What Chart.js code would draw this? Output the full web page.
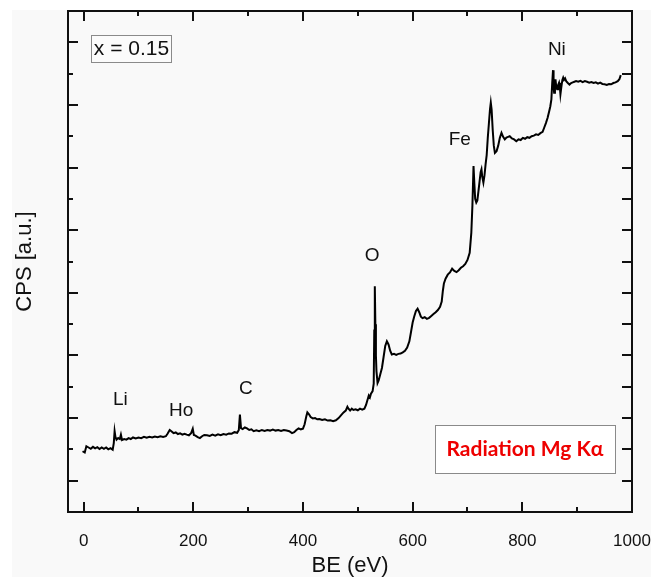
<!DOCTYPE html>
<html>
<head>
<meta charset="utf-8">
<script src="https://cdn.jsdelivr.net/npm/chart.js@4.4.0/dist/chart.umd.min.js"></script>
<style>
  body { margin: 0; background: #fafafa; }
  canvas { display: block; }
</style>
</head>
<body>
<canvas id="xps" width="651" height="577"></canvas>
<script>
// XPS survey spectrum, x = 0.15 sample
// binding energy (eV)
const beX = [
  -2, 2, 5, 9, 13, 17, 21, 25, 29, 33, 37, 41, 45, 49, 53, 55, 56.5, 58, 60, 63,
  66, 68, 70, 74, 78, 82, 86, 90, 95, 100, 105, 110, 115, 120, 125, 130, 135, 140, 145, 150,
  153, 157, 160, 164, 168, 172, 176, 180, 184, 188, 192, 196, 199, 201, 204, 208, 212, 216, 220, 225,
  230, 235, 240, 245, 250, 255, 260, 265, 270, 275, 280, 283, 285, 287, 290, 294, 298, 302, 306, 310,
  315, 320, 325, 330, 335, 340, 345, 350, 355, 360, 365, 370, 375, 380, 384, 388, 392, 396, 400, 403,
  406, 408, 411, 414, 418, 422, 426, 430, 435, 440, 445, 450, 455, 460, 465, 470, 474, 478, 481, 483,
  486, 489, 492, 496, 500, 504, 508, 512, 515, 518, 520, 522, 524, 527, 529, 530, 531, 532, 533, 534,
  536, 538, 541, 544, 547, 550, 553, 556, 559, 562, 566, 570, 574, 578, 582, 586, 590, 594, 597, 600,
  603, 606, 609, 612, 615, 618, 622, 626, 630, 634, 638, 642, 646, 650, 653, 655, 657, 660, 664, 668,
  672, 676, 680, 684, 688, 692, 696, 700, 704, 707, 709, 711, 712.5, 714, 716, 718, 720, 722, 724, 725.5,
  727, 729, 731, 733, 735, 737, 739, 741, 742.5, 744, 746, 748, 750, 753, 756, 759, 762, 765, 768, 771,
  774, 777, 781, 785, 789, 793, 797, 801, 805, 809, 813, 817, 821, 825, 829, 833, 837, 840, 843, 846,
  849, 851, 853, 854.5, 856, 857, 858, 859.5, 860.5, 862, 863.5, 865, 867, 868.5, 869.5, 871, 873, 874.5, 876, 878,
  880, 883, 886, 889, 892, 895, 898, 902, 906, 910, 914, 918, 922, 926, 930, 934, 938, 942, 946, 950,
  954, 958, 962, 966, 970, 974, 977, 979.5,
];

// counts per second (arbitrary units)
const cps = [
  1.94, 1.90, 2.10, 2.06, 2.02, 2.08, 2.03, 2.07, 2.01, 2.06, 2.02, 2.06, 2.00, 2.04, 1.99, 2.20, 2.58, 2.40, 2.31, 2.36,
  2.33, 2.47, 2.30, 2.33, 2.31, 2.36, 2.33, 2.38, 2.35, 2.38, 2.36, 2.40, 2.37, 2.40, 2.38, 2.41, 2.39, 2.42, 2.40, 2.42,
  2.50, 2.62, 2.58, 2.52, 2.54, 2.49, 2.51, 2.47, 2.50, 2.47, 2.45, 2.52, 2.66, 2.46, 2.44, 2.39, 2.36, 2.42, 2.46, 2.45,
  2.43, 2.47, 2.44, 2.48, 2.45, 2.49, 2.47, 2.51, 2.50, 2.55, 2.53, 2.62, 3.11, 2.68, 2.65, 2.70, 2.67, 2.62, 2.64, 2.58,
  2.61, 2.58, 2.62, 2.59, 2.62, 2.60, 2.63, 2.60, 2.62, 2.59, 2.62, 2.60, 2.58, 2.52, 2.55, 2.62, 2.67, 2.64, 2.66, 2.80,
  3.05, 3.18, 3.12, 3.03, 2.99, 3.00, 2.96, 2.97, 2.94, 2.96, 2.92, 2.93, 2.90, 2.93, 3.00, 3.10, 3.18, 3.24, 3.36, 3.30,
  3.24, 3.30, 3.26, 3.28, 3.25, 3.30, 3.27, 3.30, 3.42, 3.60, 3.72, 3.66, 3.78, 3.86, 4.10, 5.80, 7.21, 6.00, 5.00, 4.50,
  4.12, 4.20, 4.40, 4.60, 4.95, 5.30, 5.45, 5.35, 5.15, 5.03, 5.05, 5.02, 5.05, 5.06, 5.10, 5.15, 5.25, 5.45, 5.75, 6.05,
  6.25, 6.42, 6.49, 6.38, 6.24, 6.19, 6.22, 6.17, 6.20, 6.26, 6.32, 6.38, 6.45, 6.55, 6.72, 7.05, 7.30, 7.45, 7.58, 7.65,
  7.77, 7.70, 7.66, 7.72, 7.80, 7.85, 7.92, 8.05, 8.28, 8.92, 9.80, 11.05, 10.50, 10.00, 9.88, 9.95, 10.25, 10.55, 10.85, 10.94,
  10.70, 10.52, 10.75, 11.10, 11.40, 11.95, 12.40, 12.85, 13.07, 12.85, 12.20, 11.70, 11.47, 11.52, 11.70, 11.95, 12.11, 11.98, 11.90, 11.96,
  11.98, 12.00, 11.93, 11.90, 11.84, 11.90, 11.88, 11.95, 11.92, 11.97, 11.95, 12.00, 12.02, 12.06, 12.04, 12.10, 12.14, 12.28, 12.42, 12.58,
  12.80, 12.95, 13.18, 13.70, 14.11, 13.60, 13.39, 13.65, 13.82, 13.55, 13.50, 13.62, 13.71, 13.55, 13.34, 13.55, 13.80, 13.87, 13.80, 13.85,
  13.76, 13.70, 13.65, 13.70, 13.72, 13.74, 13.76, 13.74, 13.77, 13.73, 13.76, 13.74, 13.71, 13.73, 13.70, 13.72, 13.68, 13.71, 13.67, 13.66,
  13.64, 13.67, 13.66, 13.70, 13.72, 13.76, 13.82, 13.95,
];

// tick values
const xLabelTicks = [0, 200, 400, 600, 800, 1000];
const xMinorTicks = [100, 300, 500, 700, 900];
const yTicks = [1, 2, 3, 4, 5, 6, 7, 8, 9, 10, 11, 12, 13, 14, 15];

// element labels placed over the peaks (data coords)
const peakNames = ['Li', 'Ho', 'C', 'O', 'Fe', 'Ni'];
const peakNameX = [67, 178, 296, 526, 686, 863];
const peakNameY = [3.58, 3.23, 3.93, 8.18, 11.9, 14.76];

const FONT = '"Liberation Sans", Arial, sans-serif';

const bgPlugin = {
  id: 'bg',
  beforeDraw: (chart) => {
    const { ctx, width, height } = chart;
    ctx.save();
    ctx.fillStyle = '#ffffff';
    ctx.fillRect(0, 0, width, height);
    ctx.fillStyle = '#f9f9f9';
    ctx.fillRect(12, 10, width - 12, height - 10);
    ctx.restore();
  },
};

// frame, inward ticks, labels and the two boxes
const framePlugin = {
  id: 'frame',
  afterDraw: (chart) => {
    const { ctx, chartArea: a, scales } = chart;
    const x = scales.x;
    const y = scales.y;
    ctx.save();
    ctx.strokeStyle = '#111';
    ctx.lineWidth = 2;
    ctx.strokeRect(a.left, a.top, a.right - a.left, a.bottom - a.top);

    ctx.beginPath();
    const vTick = (v, len) => {
      const px = Math.round(x.getPixelForValue(v));
      ctx.moveTo(px, a.bottom);
      ctx.lineTo(px, a.bottom - len);
      ctx.moveTo(px, a.top);
      ctx.lineTo(px, a.top + len);
    };
    xLabelTicks.forEach((v) => vTick(v, 10));
    xMinorTicks.forEach((v) => vTick(v, 5));
    yTicks.forEach((v) => {
      const py = Math.round(y.getPixelForValue(v));
      ctx.moveTo(a.left, py);
      ctx.lineTo(a.left + (v % 2 ? 10 : 5), py);
      ctx.moveTo(a.right, py);
      ctx.lineTo(a.right - 10, py);
    });
    ctx.stroke();

    // peak names
    ctx.fillStyle = '#111';
    ctx.font = `19px ${FONT}`;
    ctx.textAlign = 'center';
    ctx.textBaseline = 'middle';
    peakNames.forEach((name, i) => {
      ctx.fillText(name, x.getPixelForValue(peakNameX[i]), y.getPixelForValue(peakNameY[i]));
    });

    // sample box, top left
    ctx.lineWidth = 1;
    ctx.strokeStyle = '#8a8a8a';
    ctx.fillStyle = '#fbfbfb';
    ctx.fillRect(a.left + 23.5, a.top + 24.5, 80, 27);
    ctx.strokeRect(a.left + 23.5, a.top + 24.5, 80, 27);
    ctx.fillStyle = '#111';
    ctx.font = `21px ${FONT}`;
    ctx.fillText('x = 0.15', a.left + 63.5, a.top + 38.5);

    // radiation box, bottom right
    ctx.fillStyle = '#ffffff';
    ctx.fillRect(a.right - 196.5, a.bottom - 86.5, 180, 48);
    ctx.strokeRect(a.right - 196.5, a.bottom - 86.5, 180, 48);
    ctx.fillStyle = '#ee0000';
    ctx.font = 'bold 21px Lato, "Open Sans", sans-serif';
    ctx.fillText('Radiation Mg K\u03b1', a.right - 107, a.bottom - 63);
    ctx.restore();
  },
};

const points = beX.map((v, i) => ({ x: v, y: cps[i] }));

// eslint-disable-next-line no-undef
new Chart(document.getElementById('xps'), {
  type: 'line',
  data: {
    datasets: [{
      data: points,
      borderColor: '#000',
      borderWidth: 2,
      pointRadius: 0,
      tension: 0,
      fill: false,
    }],
  },
  options: {
    responsive: false,
    animation: false,
    layout: { padding: { top: 11, right: 19, left: 0, bottom: 0 } },
    plugins: { legend: { display: false }, tooltip: { enabled: false } },
    scales: {
      x: {
        type: 'linear',
        min: -28.5,
        max: 1000,
        grid: { display: false },
        border: { display: false },
        afterBuildTicks: (scale) => {
          // eslint-disable-next-line no-param-reassign
          scale.ticks = xLabelTicks.map((v) => ({ value: v }));
        },
        afterFit: (scale) => {
          /* eslint-disable no-param-reassign */
          scale.height = 65;
          scale.paddingLeft = 0;
          scale.paddingRight = 0;
          /* eslint-enable no-param-reassign */
        },
        ticks: {
          color: '#111',
          padding: 11,
          maxRotation: 0,
          font: { family: FONT, size: 17 },
          callback: (v) => String(v),
        },
        title: {
          display: true,
          text: 'BE (eV)',
          color: '#111',
          padding: { top: 0, bottom: 0 },
          font: { family: FONT, size: 22, lineHeight: 1 },
        },
      },
      y: {
        min: 0,
        max: 16,
        grid: { display: false },
        border: { display: false },
        ticks: { display: false },
        afterFit: (scale) => {
          /* eslint-disable no-param-reassign */
          scale.width = 68;
          scale.paddingTop = 0;
          scale.paddingBottom = 0;
          /* eslint-enable no-param-reassign */
        },
        title: {
          display: true,
          text: 'CPS [a.u.]',
          color: '#111',
          padding: { top: 14, bottom: 0 },
          font: { family: FONT, size: 22, lineHeight: 1 },
        },
      },
    },
  },
  plugins: [bgPlugin, framePlugin],
});
</script>
</body>
</html>
